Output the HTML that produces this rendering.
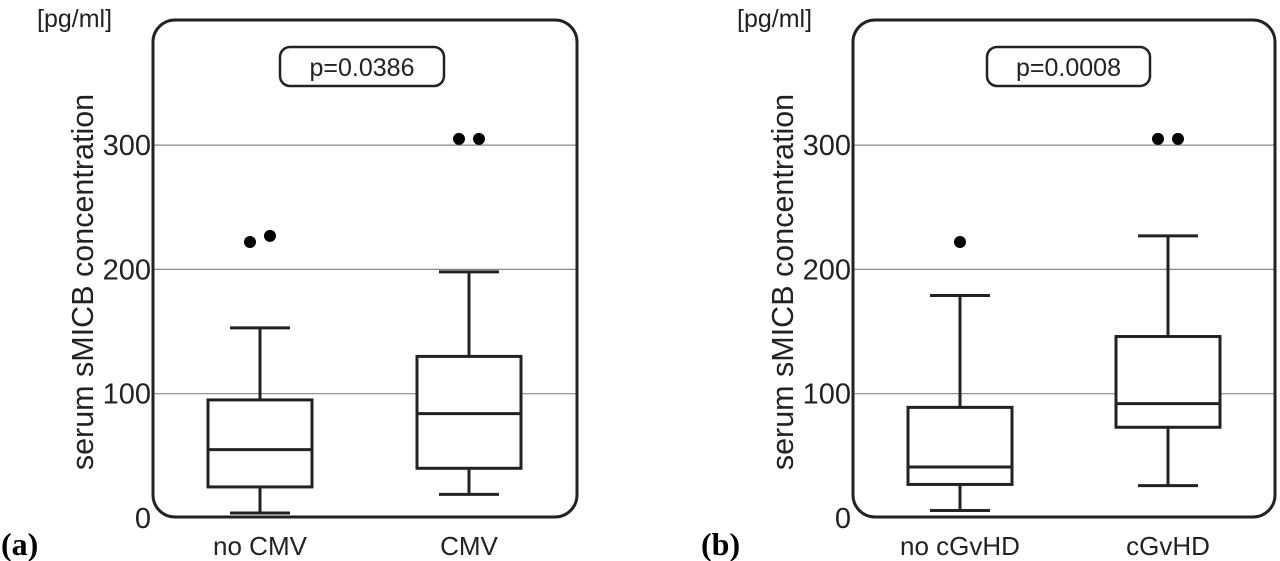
<!DOCTYPE html>
<html><head><meta charset="utf-8"><style>
body{margin:0;background:#fff;}
svg{display:block;font-family:"Liberation Sans",sans-serif;}
</style></head><body>
<svg id="c" width="1280" height="561" viewBox="0 0 1280 561"></svg>
<script>
const panelIds=['a','b'];
const pValues=['p=0.0386','p=0.0008'];
const categoriesA=['no CMV','CMV'];
const categoriesB=['no cGvHD','cGvHD'];
const minsA=[4,19], q1A=[25,40], medA=[55,84], q3A=[95,130], maxA=[153,198];
const minsB=[6,26], q1B=[27,73], medB=[41,92], q3B=[89,146], maxB=[179,227];
const outliersA=[[222,227],[305,305]];
const outliersB=[[222],[305,305]];
const yTicks=[0,100,200,300];
const NS='http://www.w3.org/2000/svg';
const svg=document.getElementById('c');
function mk(t,a,p){const e=document.createElementNS(NS,t);for(const k in a)e.setAttribute(k,a[k]);(p||svg).appendChild(e);return e;}
const y=v=>518-v*1.243;
const panels=[
 {x0:153,x1:577,cats:categoriesA,mn:minsA,q1:q1A,md:medA,q3:q3A,mx:maxA,out:outliersA,cx:[260,469],pb:[280,444]},
 {x0:853,x1:1275,cats:categoriesB,mn:minsB,q1:q1B,md:medB,q3:q3B,mx:maxB,out:outliersB,cx:[960,1168],pb:[987,1150]}];
panels.forEach((P,pi)=>{
 const g=mk('g',{});
 
 
 yTicks.forEach(t=>{
  if(t>0){const l=mk('line',{x1:P.x0,x2:P.x1,y1:y(t),y2:y(t),stroke:'#888','stroke-width':1.2},g);
   }
  const tx=mk('text',{x:P.x0-2,y:y(t)+10,'text-anchor':'end','font-size':29,fill:'#222'},g);
  tx.textContent=t;
 });
 const fr=mk('rect',{x:P.x0,y:20,width:P.x1-P.x0,height:497,rx:22,fill:'none',stroke:'#222','stroke-width':3},g);
 
 const pb=mk('rect',{x:P.pb[0],y:47,width:P.pb[1]-P.pb[0],height:39,rx:10,fill:'#fff',stroke:'#222','stroke-width':2.5},g);
 
 const pt=mk('text',{x:(P.pb[0]+P.pb[1])/2,y:76,'text-anchor':'middle','font-size':25,fill:'#222'},g);
 pt.textContent=pValues[pi];
 P.cats.forEach((c,i)=>{
  const cx=P.cx[i],w=52,cw=30;
  const b=mk('g',{stroke:'#222','stroke-width':3,fill:'none'},g);
  
  
  mk('line',{x1:cx,x2:cx,y1:y(P.mx[i]),y2:y(P.q3[i])},b);
  mk('line',{x1:cx,x2:cx,y1:y(P.q1[i]),y2:y(P.mn[i])},b);
  mk('line',{x1:cx-cw,x2:cx+cw,y1:y(P.mx[i]),y2:y(P.mx[i])},b);
  mk('line',{x1:cx-cw,x2:cx+cw,y1:y(P.mn[i]),y2:y(P.mn[i])},b);
  mk('rect',{x:cx-w,y:y(P.q3[i]),width:2*w,height:y(P.q1[i])-y(P.q3[i]),fill:'#fff'},b);
  mk('line',{x1:cx-w,x2:cx+w,y1:y(P.md[i]),y2:y(P.md[i])},b);
  const n=P.out[i].length;
  P.out[i].forEach((v,k)=>{
   const ox=n===1?cx:cx-10+k*20;
   const o=mk('circle',{cx:ox,cy:y(v),r:6,fill:'#000'},g);
   
  });
  const xl=mk('text',{x:cx,y:555,'text-anchor':'middle','font-size':26,fill:'#222'},g);
  xl.textContent=c;
 });
 const yt=mk('text',{x:0,y:0,transform:`translate(${P.x0-60},282) rotate(-90)`,'text-anchor':'middle','font-size':30.5,fill:'#222'},g);
 yt.textContent='serum sMICB concentration';
 const un=mk('text',{x:P.x0-116,y:27,'font-size':25,fill:'#222'},g);
 un.textContent='[pg/ml]';
 const pl=mk('text',{x:P.x0-152,y:555,'font-size':32,'font-weight':'bold','font-family':'Liberation Serif, serif',fill:'#000'},g);
 pl.textContent='('+panelIds[pi]+')';
});
</script>
</body></html>
